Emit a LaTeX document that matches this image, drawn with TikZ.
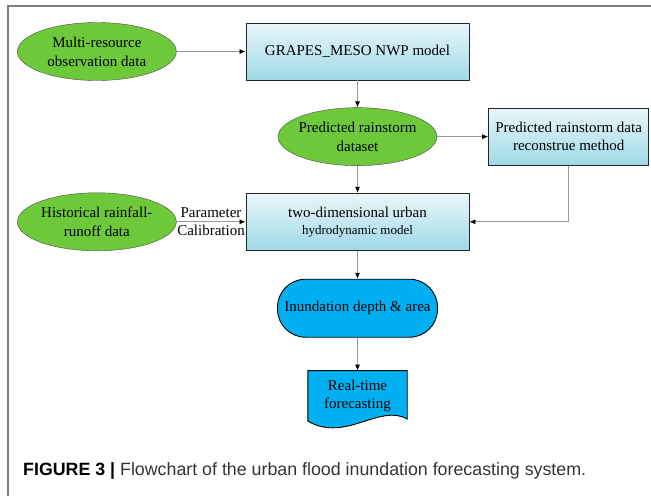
\documentclass[tikz,border=0pt]{standalone}
\usepackage{fontspec}
\setmainfont{Liberation Serif}
\newfontfamily\capfont{Liberation Sans}
\usetikzlibrary{arrows.meta, positioning, shapes.geometric, backgrounds, calc}
\definecolor{gruen}{HTML}{6DC93A}
\definecolor{hellblau}{HTML}{EAF7FB}
\definecolor{tuerkis}{HTML}{9ED9E6}
\definecolor{himmel}{HTML}{00B0F0}
\definecolor{linie}{HTML}{9A9A9A}
\definecolor{rahmen}{HTML}{808080}
\tikzset{
  oval/.style={ellipse, draw=black!70, fill=gruen, minimum width=159pt, minimum height=58pt, inner xsep=-3pt, inner ysep=0pt, align=center, font=\fontsize{15}{19}\selectfont},
  box/.style={draw=black!85, line width=0.9pt, top color=hellblau, bottom color=tuerkis, minimum height=57pt, align=center, font=\fontsize{15}{18}\selectfont},
  ende/.style={draw, line width=0.9pt, fill=himmel, rounded corners=28pt, minimum width=160pt, minimum height=58pt, font=\fontsize{15}{18}\selectfont},
  pfeil/.style={draw=linie, line width=0.8pt, -{Latex[length=6pt, width=5pt, color=black]}},
}

\begin{document}
\begin{tikzpicture}[x=1pt, y=1pt, node distance=27pt]
    \useasboundingbox (0,0) rectangle (651,-496);
    \draw[rahmen, line width=1.2pt] (8,-496) -- (8,-6) -- (651,-6);
    \node[box, minimum width=223pt] (nwp) at (357.5,-51.5) {GRAPES\_MESO NWP model};
    \node[oval, left=69pt of nwp] (obs) {Multi-resource\\ observation data};
    \node[oval, below=of nwp] (prd) {Predicted rainstorm\\ dataset};
    \node[box, minimum width=160pt, right=51pt of prd] (rec) {Predicted rainstorm data\\ reconstrue method};
    \node[box, minimum width=223pt, below=of prd, font=\fontsize{15}{17}\selectfont] (hyd) {two-dimensional urban\\ {\fontsize{13}{15}\selectfont hydrodynamic model}};
    \node[oval, left=69pt of hyd] (his) {Historical rainfall-\\ runoff data};
    \node[ende, below=28pt of hyd] (inu) {Inundation depth \& area};
    \node[minimum width=99pt, minimum height=50pt, align=center, below=33pt of inu, font=\fontsize{15}{18}\selectfont] (rt) {Real-time\\ forecasting};
    \begin{pgfonlayer}{background}
      \draw[line width=0.9pt, fill=himmel] (rt.north west) -- (rt.north east) -- ([yshift=2pt]rt.south east) .. controls +(-27,16) and +(37,-22) .. (rt.south west) -- cycle;
    \end{pgfonlayer}
    \draw[pfeil] (obs) -- (nwp);
    \draw[pfeil] (nwp) -- (prd);
    \draw[pfeil] (prd) -- (rec);
    \draw[pfeil] (prd) -- (hyd);
    \draw[pfeil] (rec.south) |- (hyd.east);
    \draw[pfeil] (his) -- node[above, font=\fontsize{15}{18}\selectfont]{Parameter} node[below, font=\fontsize{15}{18}\selectfont]{Calibration} (hyd);
    \draw[pfeil] (hyd) -- (inu);
    \draw[pfeil] (inu) -- (rt);
    \node[anchor=west, inner sep=0pt, font=\capfont\fontsize{17.8}{20}\selectfont] (cap) at (23,-471) {\textbf{FIGURE 3 |} \textcolor{black!80}{Flowchart of the urban flood inundation forecasting system.}};
\end{tikzpicture}
\end{document}
